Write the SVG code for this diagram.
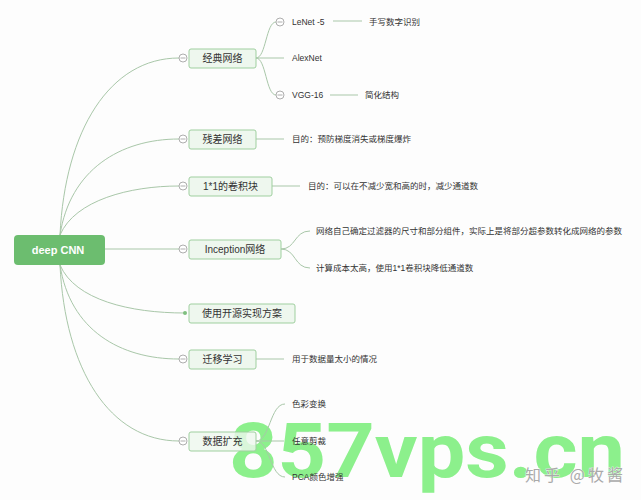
<svg xmlns="http://www.w3.org/2000/svg" width="641" height="500" viewBox="0 0 641 500">
<style>
text{font-family:"Liberation Sans","Noto Sans CJK SC",sans-serif;fill:#333}
.root{fill:#6cbd6f}
.rt{fill:#fff;font-size:11px;font-weight:bold}
.box{fill:#eef7ee;stroke:#9fcf9f;stroke-width:1}
.bt{font-size:10px}
.ct{font-size:8.5px}
.c{fill:none;stroke:#a9c7a9;stroke-width:1}
.tg{fill:#fff;stroke:#999;stroke-width:0.8}
.tgl{stroke:#999;stroke-width:0.8}
</style>
<rect width="641" height="500" fill="#fdfdfd"/>
<g id="watermark">
<text x="229" y="477" font-size="76" font-weight="bold" textLength="396" lengthAdjust="spacingAndGlyphs" style="fill:#8cf08c;font-family:Roboto,'DejaVu Sans',sans-serif">857vps.cn</text>
<text x="525" y="481" font-size="16" textLength="98" style="fill:#aaa;stroke:#fff;stroke-width:0.6;paint-order:stroke;font-family:'Noto Sans CJK SC',sans-serif">知乎 @牧酱</text>
</g>
<g id="connectors">
<path class="c" d="M60,235 C65,130 110,58 179,58"/>
<path class="c" d="M60,235 C70,170 120,139 179,139"/>
<path class="c" d="M60,235 C75,200 130,186 179,186"/>
<path class="c" d="M105,249 L179,249"/>
<path class="c" d="M60,265 C75,300 130,313 185,313"/>
<path class="c" d="M60,265 C70,330 120,359 179,359"/>
<path class="c" d="M60,265 C65,370 110,441 179,441"/>
<path class="c" d="M256,58 C266,58 266,22 276,22"/>
<path class="c" d="M256,58 L284,58"/>
<path class="c" d="M256,58 C266,58 266,95 276,95"/>
<path class="c" d="M333,21 L362,21"/>
<path class="c" d="M330,95 L358,95"/>
<path class="c" d="M256,139 L284,139"/>
<path class="c" d="M272,186 L300,186"/>
<path class="c" d="M281,249 C296,249 294,231 310,231"/>
<path class="c" d="M281,249 C296,249 294,268 310,268"/>
<path class="c" d="M256,359 L284,359"/>
<path class="c" d="M256,441 C270,441 270,404 285,404"/>
<path class="c" d="M256,441 L284,441"/>
<path class="c" d="M256,441 C270,441 270,477 285,477"/>
</g>
<g id="root">
<rect class="root" x="14" y="235" width="91" height="30" rx="4"/>
<text class="rt" x="58" y="253.5" text-anchor="middle">deep CNN</text>
</g>
<g id="n-jingdian">
<rect class="box" x="189" y="49" width="67" height="19" rx="2"/>
<text class="bt" x="222.5" y="61.5" text-anchor="middle">经典网络</text>
<circle class="tg" cx="183" cy="58" r="4"/><path class="tgl" d="M180.5,58 H185.5"/>
</g>
<g id="n-lenet">
<circle class="tg" cx="280" cy="22" r="4"/><path class="tgl" d="M277.5,22 H282.5"/>
<text class="ct" x="292" y="24.5">LeNet -5</text>
</g>
<g id="n-shouxie"><text class="ct" x="369" y="24.5">手写数字识别</text></g>
<g id="n-alexnet"><text class="ct" x="292" y="61">AlexNet</text></g>
<g id="n-vgg">
<circle class="tg" cx="280" cy="95" r="4"/><path class="tgl" d="M277.5,95 H282.5"/>
<text class="ct" x="292" y="98">VGG-16</text>
</g>
<g id="n-jianhua"><text class="ct" x="365" y="98">简化结构</text></g>
<g id="n-cancha">
<rect class="box" x="189" y="130" width="67" height="19" rx="2"/>
<text class="bt" x="222.5" y="142.5" text-anchor="middle">残差网络</text>
<circle class="tg" cx="183" cy="139" r="4"/><path class="tgl" d="M180.5,139 H185.5"/>
</g>
<g id="n-cancha-t"><text class="ct" x="292" y="142">目的：预防梯度消失或梯度爆炸</text></g>
<g id="n-11">
<rect class="box" x="189" y="177" width="83" height="19" rx="2"/>
<text class="bt" x="230.5" y="189.5" text-anchor="middle">1*1的卷积块</text>
<circle class="tg" cx="183" cy="186" r="4"/><path class="tgl" d="M180.5,186 H185.5"/>
</g>
<g id="n-11-t"><text class="ct" x="308" y="189">目的：可以在不减少宽和高的时，减少通道数</text></g>
<g id="n-inception">
<rect class="box" x="189" y="240" width="92" height="19" rx="2"/>
<text class="bt" x="235" y="252.5" text-anchor="middle">Inception网络</text>
<circle class="tg" cx="183" cy="249" r="4"/><path class="tgl" d="M180.5,249 H185.5"/>
</g>
<g id="n-inc-1"><text class="ct" x="316" y="234">网络自己确定过滤器的尺寸和部分组件，实际上是将部分超参数转化成网络的参数</text></g>
<g id="n-inc-2"><text class="ct" x="316" y="271">计算成本太高，使用1*1卷积块降低通道数</text></g>
<g id="n-kaiyuan">
<rect class="box" x="189" y="304" width="106" height="19" rx="2"/>
<text class="bt" x="242" y="316.5" text-anchor="middle">使用开源实现方案</text>
<circle cx="185" cy="313" r="2" fill="#7fbf7f"/>
</g>
<g id="n-qianyi">
<rect class="box" x="189" y="350" width="67" height="19" rx="2"/>
<text class="bt" x="222.5" y="362.5" text-anchor="middle">迁移学习</text>
<circle class="tg" cx="183" cy="359" r="4"/><path class="tgl" d="M180.5,359 H185.5"/>
</g>
<g id="n-qianyi-t"><text class="ct" x="292" y="362">用于数据量太小的情况</text></g>
<g id="n-shuju">
<rect class="box" x="189" y="432" width="67" height="19" rx="2" style="fill-opacity:0.8"/>
<text class="bt" x="222.5" y="444.5" text-anchor="middle">数据扩充</text>
<circle class="tg" cx="183" cy="441" r="4"/><path class="tgl" d="M180.5,441 H185.5"/>
</g>
<g id="n-secai"><text class="ct" x="292" y="407">色彩变换</text></g>
<g id="n-jiancai"><text class="ct" x="292" y="444">任意剪裁</text></g>
<g id="n-pca"><text class="ct" x="292" y="480">PCA颜色增强</text></g>
</svg>
